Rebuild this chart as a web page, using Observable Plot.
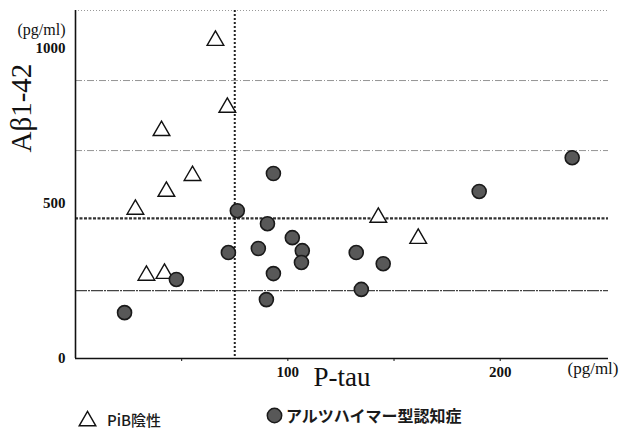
<!DOCTYPE html>
<html><head><meta charset="utf-8">
<script src="https://cdn.jsdelivr.net/npm/d3@7"></script>
<script src="https://cdn.jsdelivr.net/npm/@observablehq/plot@0.6"></script>
<style>
body{margin:0;background:#fff;}
#wrap{width:621px;height:430px;position:relative;overflow:hidden;background:#fff;}
#legend{position:relative;width:621px;height:30px;font-family:"Noto Sans CJK JP","Noto Sans",sans-serif;font-size:15px;color:#1a1a1a;}
#legend .item{position:absolute;top:8px;display:flex;align-items:center;height:22px;}
#legend svg{margin-right:9px;}
</style></head><body><div id="wrap"><div id="chart"></div><div id="legend"></div></div>
<script>
// PiB-negative group (triangles)
const pibPtau = [65.9, 71.5, 40.5, 55.1, 42.8, 28.2, 33.4, 41.9, 142.6, 161.4];
const pibAbeta = [1026, 810, 735, 590, 539, 481, 268, 274, 455, 387];
// Alzheimer's disease group (circles)
const adPtau = [76.2, 90.4, 102.1, 86.1, 72.0, 106.8, 106.4, 93.2, 47.5, 89.9, 23.1, 93.2, 132.2, 144.9, 134.6, 190.1, 233.9];
const adAbeta = [477, 435, 390, 355, 342, 348, 310, 274, 255, 190, 148, 597, 342, 306, 223, 539, 648];
// axes
const xTickValues = [50, 100, 150, 200];
const xTickLabels = [100, 200];
const yTickValues = [0, 500, 1000];
const xDomain = [0, 251];
const yDomain = [0, 1123];
// reference lines
const topBorder = [1123];
const lightGridY = [897, 671];
const cutoffY = [452];
const lowerY = [219];
const cutoffX = [75];
// texts
const xTitle = "P-tau";
const yTitle = "Aβ1-42";
const unit = "(pg/ml)";
const seriesNames = ["PiB陰性", "アルツハイマー型認知症"];

const serif = "Liberation Serif";
const pib = pibPtau.map((x, i) => ({x, y: pibAbeta[i]}));
const ad = adPtau.map((x, i) => ({x, y: adAbeta[i]}));

const chart = Plot.plot({
  width: 621,
  height: 400,
  marginLeft: 75,
  marginRight: 13,
  marginTop: 10,
  marginBottom: 42,
  x: {domain: xDomain},
  y: {domain: yDomain},
  style: {fontFamily: serif, background: "#fff", color: "#111"},
  marks: [
    Plot.ruleY(topBorder, {stroke: "#999", strokeDasharray: "1,2", strokeWidth: 1}),
    Plot.ruleY(lightGridY, {stroke: "#888", strokeDasharray: "7,2,1,2", strokeWidth: 0.9}),
    Plot.ruleY(cutoffY, {stroke: "#333", strokeDasharray: "3,1.5", strokeWidth: 2.2}),
    Plot.ruleY(lowerY, {stroke: "#444", strokeDasharray: "12,1,2,1", strokeWidth: 1.1}),
    Plot.ruleX(cutoffX, {stroke: "#222", strokeDasharray: "2,2", strokeWidth: 2}),
    Plot.axisY({ticks: yTickValues, tickFormat: d => String(d), tickSize: 0, tickPadding: 10, label: null, fontWeight: "bold", fontSize: 15, fontFamily: serif}),
    Plot.axisX({ticks: xTickValues, tickFormat: d => xTickLabels.includes(d) ? String(d) : "", tickSize: 3, tickPadding: 5, label: null, fontWeight: "bold", fontSize: 15, fontFamily: serif}),
    Plot.ruleX([0], {stroke: "#111", strokeWidth: 1.6}),
    Plot.ruleY([0], {stroke: "#111", strokeWidth: 1.6}),
    Plot.dot(pib, {x: "x", y: "y", symbol: "triangle", r: 6.2, fill: "white", stroke: "#111", strokeWidth: 1.4}),
    Plot.dot(ad, {x: "x", y: "y", r: 7, fill: "#585858", stroke: "#1a1a1a", strokeWidth: 1.6}),
    Plot.text([yTitle], {frameAnchor: "left", dx: -54, dy: -32, rotate: -90, fontSize: 29, fill: "#111", fontFamily: serif}),
    Plot.text([xTitle], {frameAnchor: "bottom", dy: 27, fontSize: 27, fill: "#111", fontFamily: serif}),
    Plot.text([unit], {frameAnchor: "bottom-right", textAnchor: "end", dx: 10, dy: 15, fontSize: 17, fill: "#111", fontFamily: serif}),
    Plot.text([unit], {frameAnchor: "top-left", textAnchor: "end", dx: -10, dy: 13, fontSize: 16, fill: "#111", fontFamily: serif})
  ]
});
document.getElementById("chart").appendChild(chart);

const legend = d3.select("#legend");
const l1 = legend.append("div").attr("class", "item").style("left", "77px");
const s1 = l1.append("svg").attr("width", 21).attr("height", 18);
s1.append("path").attr("d", d3.symbol(d3.symbolTriangle, 120)()).attr("transform", "translate(10.5,11)")
  .attr("fill", "white").attr("stroke", "#111").attr("stroke-width", 1.4);
l1.append("span").text(seriesNames[0]).style("font-weight", "500");
const l2 = legend.append("div").attr("class", "item").style("left", "266px").style("top", "4px");
const s2 = l2.append("svg").attr("width", 17).attr("height", 17).style("margin-right", "3px");
s2.append("circle").attr("cx", 8.5).attr("cy", 8.5).attr("r", 7.2).attr("fill", "#585858").attr("stroke", "#1a1a1a").attr("stroke-width", 1.5);
l2.append("span").text(seriesNames[1]).style("font-weight", "bold").style("font-size", "16px");
</script></body></html>
